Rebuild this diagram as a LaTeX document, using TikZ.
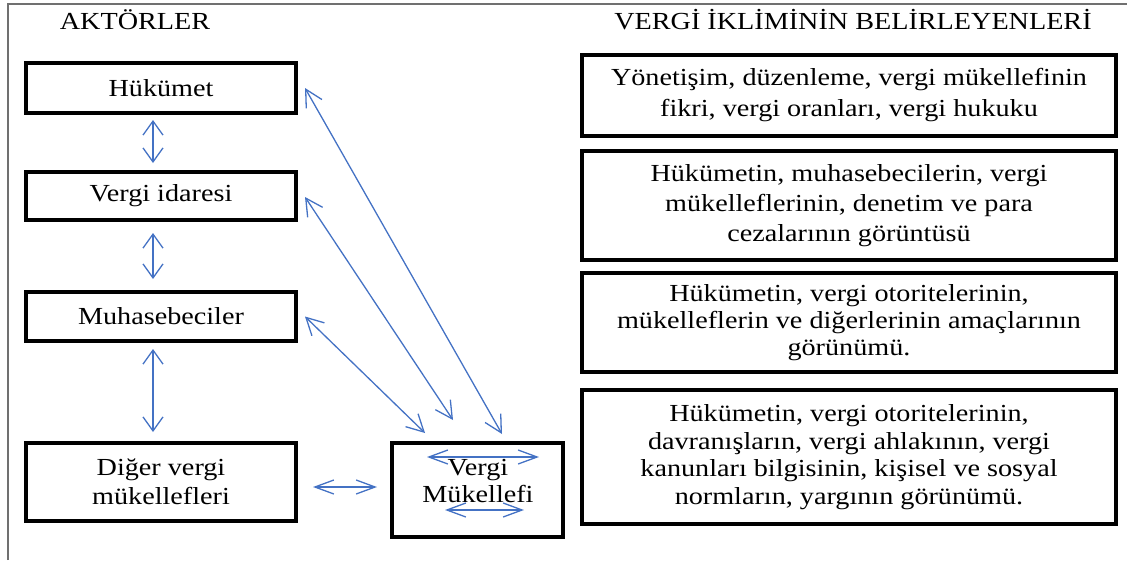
\documentclass[tikz,border=0pt]{standalone}
\usepackage{fontspec}
\setmainfont[FakeStretch=1.15]{Liberation Serif}
\usetikzlibrary{arrows.meta}
\definecolor{arrowblue}{HTML}{4472C4}
\definecolor{framegray}{HTML}{707070}
\begin{document}
\begin{tikzpicture}[x=1pt,y=-1pt,
  every node/.style={font=\fontsize{24.5}{28}\selectfont, inner sep=0pt, outer sep=0pt},
  box/.style={draw=black, line width=3.2pt, align=center},
  txt/.style={align=center},
  head/.style={font=\fontsize{24.5}{27}\selectfont},
  conn/.style={draw=arrowblue, line width=1.3pt},
  vconn/.style={conn, {Straight Barb[length=14pt,width=20pt]}-{Straight Barb[length=14pt,width=20pt]}},
  hconn/.style={conn, {Straight Barb[length=19pt,width=14pt]}-{Straight Barb[length=19pt,width=14pt]}},
  dconn/.style={conn, {Straight Barb[length=17pt,width=18pt]}-{Straight Barb[length=17pt,width=18pt]}},
]
\useasboundingbox (0,0) rectangle (1127,560);
\draw[framegray, line width=1.4pt] (8,560) -- (8,4) -- (1127,4);

\node[head] (h1) at (135,20) {AKTÖRLER};
\node[head] (h2) at (853,20) {VERGİ İKLİMİNİN BELİRLEYENLERİ};

\node[box, minimum width=270pt, minimum height=50pt] (huk) at (161,88) {Hükümet};
\node[box, minimum width=270pt, minimum height=48pt] (ida) at (161,196) {Vergi idaresi};
\node[box, minimum width=270pt, minimum height=49pt] (muh) at (161,316.5) {Muhasebeciler};
\node[box, minimum width=270pt, minimum height=78pt, font=\fontsize{24.5}{29}\selectfont] (dig) at (161,482) {Diğer vergi\\mükellefleri};
\node[box, minimum width=171pt, minimum height=94pt] (muk) at (477.5,490) {};
\node[txt, font=\fontsize{24.5}{27}\selectfont] (mukt) at (478,481) {Vergi\\Mükellefi};

\node[box, minimum width=534pt, minimum height=81pt, font=\fontsize{24.5}{31}\selectfont] (r1) at (849,95.5)
  {Yönetişim, düzenleme, vergi mükellefinin\\fikri, vergi oranları, vergi hukuku};
\node[box, minimum width=534pt, minimum height=109pt, font=\fontsize{24.5}{30}\selectfont] (r2) at (849,205.5)
  {Hükümetin, muhasebecilerin, vergi\\mükelleflerinin, denetim ve para\\cezalarının görüntüsü};
\node[box, minimum width=534pt, minimum height=99pt, font=\fontsize{24.5}{27}\selectfont] (r3) at (849,322.5)
  {Hükümetin, vergi otoritelerinin,\\mükelleflerin ve diğerlerinin amaçlarının\\görünümü.};
\node[box, minimum width=534pt, minimum height=134pt, font=\fontsize{24.5}{27.7}\selectfont] (r4) at (849,457)
  {Hükümetin, vergi otoritelerinin,\\davranışların, vergi ahlakının, vergi\\kanunları bilgisinin, kişisel ve sosyal\\normların, yargının görünümü.};

% vertical arrows
\draw[vconn, shorten <=7pt, shorten >=9pt] ([xshift=-8pt]huk.south) -- ([xshift=-8pt]ida.north);
\draw[vconn, shorten <=13pt, shorten >=13pt] ([xshift=-8pt]ida.south) -- ([xshift=-8pt]muh.north);
\draw[vconn, shorten <=8pt, shorten >=11pt] ([xshift=-8pt]muh.south) -- ([xshift=-8pt]dig.north);
% horizontal arrow
\draw[hconn, shorten <=17pt, shorten >=15pt] ([yshift=-5pt]dig.east) -- ([yshift=3pt]muk.west);
% diagonal arrows
\draw[dconn] ([xshift=9pt]huk.east) -- ([xshift=24.5pt,yshift=9pt]muk.north);
\draw[dconn] ([xshift=9pt,yshift=-1pt]ida.east) -- ([xshift=-24.5pt,yshift=23pt]muk.north);
\draw[dconn] ([xshift=9pt]muh.east) -- ([xshift=-52.5pt,yshift=10pt]muk.north);
% arrows inside the taxpayer box
\coordinate (ta) at ([xshift=-50.5pt,yshift=33pt]muk.center);
\coordinate (tb) at ([xshift=61.5pt,yshift=33pt]muk.center);
\coordinate (ba) at ([xshift=-32.5pt,yshift=-20pt]muk.center);
\coordinate (bb) at ([xshift=46.5pt,yshift=-20pt]muk.center);
\draw[hconn] (ta) -- (tb);
\draw[hconn] (ba) -- (bb);
\end{tikzpicture}
\end{document}
